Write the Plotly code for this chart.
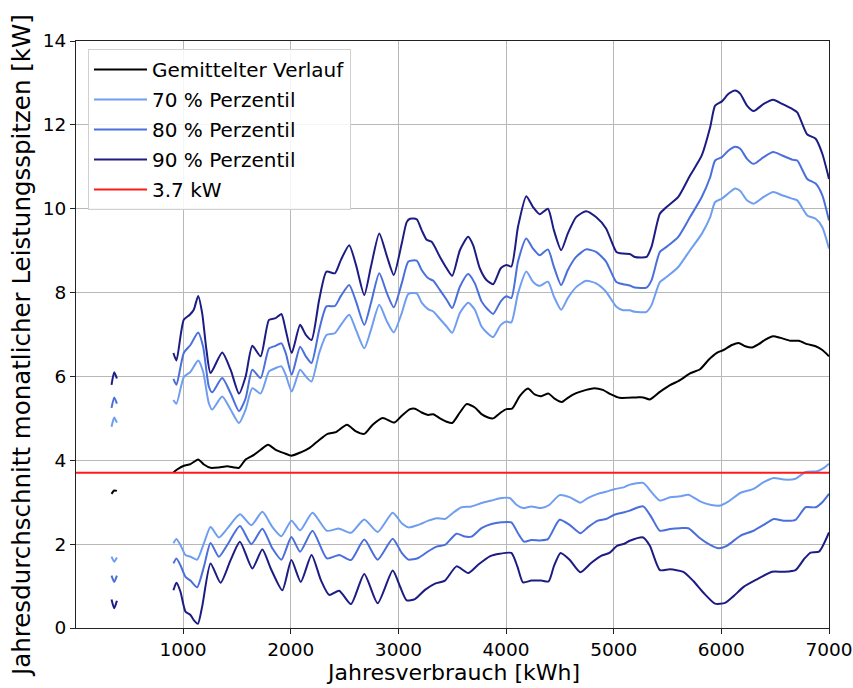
import plotly.graph_objects as go

# ---- data (x = Jahresverbrauch kWh, y = kW) ----
frag_x = [335, 360, 385]
frag_mean = [3.20, 3.28, 3.27]
frag_u70 = [4.80, 5.02, 4.90]
frag_u80 = [5.25, 5.50, 5.35]
frag_u90 = [5.80, 6.10, 5.95]
frag_l70 = [1.70, 1.58, 1.68]
frag_l80 = [1.25, 1.10, 1.25]
frag_l90 = [0.68, 0.47, 0.65]

mean_pts = [(910, 3.71), (944, 3.78), (1006, 3.87), (1068, 3.91), (1140, 4.02), (1193, 3.90), (1255, 3.82),
            (1332, 3.83), (1410, 3.86), (1472, 3.83), (1519, 3.82), (1581, 4.02), (1658, 4.13), (1720, 4.25),
            (1789, 4.37), (1860, 4.25), (1938, 4.17), (2006, 4.11), (2093, 4.19), (2171, 4.29), (2248, 4.45),
            (2342, 4.63), (2419, 4.67), (2522, 4.85), (2606, 4.69), (2683, 4.63), (2761, 4.85), (2854, 5.01),
            (2963, 4.90), (3031, 5.06), (3108, 5.22), (3154, 5.23), (3216, 5.14), (3278, 5.08), (3324, 5.10),
            (3386, 5.00), (3448, 4.92), (3500, 4.89), (3571, 5.14), (3633, 5.34), (3710, 5.26), (3772, 5.10),
            (3833, 5.02), (3880, 5.00), (3951, 5.14), (4003, 5.22), (4056, 5.23), (4127, 5.53), (4204, 5.71),
            (4265, 5.57), (4327, 5.53), (4395, 5.59), (4451, 5.47), (4519, 5.39), (4574, 5.49), (4651, 5.60),
            (4744, 5.68), (4821, 5.72), (4898, 5.68), (4975, 5.57), (5052, 5.49), (5211, 5.50), (5274, 5.50),
            (5336, 5.45), (5429, 5.63), (5523, 5.79), (5616, 5.91), (5709, 6.07), (5802, 6.17), (5880, 6.39),
            (5958, 6.56), (6020, 6.63), (6098, 6.75), (6160, 6.80), (6222, 6.72), (6285, 6.69), (6347, 6.77),
            (6409, 6.88), (6481, 6.96), (6549, 6.92), (6642, 6.85), (6720, 6.85), (6798, 6.77), (6876, 6.72),
            (6938, 6.63), (7000, 6.48)]

u90_pts = [(910, 6.56), (938, 6.38), (1006, 7.35), (1062, 7.47), (1099, 7.59), (1140, 7.92), (1177, 7.51),
           (1217, 6.63), (1255, 6.08), (1363, 6.57), (1441, 6.16), (1519, 5.59), (1581, 6.00), (1643, 6.73),
           (1720, 6.48), (1798, 7.35), (1860, 7.39), (1913, 7.49), (1953, 7.11), (2009, 6.56), (2087, 7.23),
           (2140, 6.99), (2193, 6.87), (2264, 7.83), (2332, 8.50), (2410, 8.46), (2466, 8.78), (2543, 9.13),
           (2606, 8.66), (2683, 7.94), (2745, 8.62), (2822, 9.41), (2894, 8.86), (2957, 8.42), (3031, 9.17),
           (3077, 9.68), (3108, 9.76), (3170, 9.75), (3216, 9.49), (3262, 9.26), (3309, 9.21), (3386, 8.85),
           (3448, 8.58), (3500, 8.40), (3571, 9.01), (3648, 9.33), (3694, 9.13), (3756, 8.58), (3818, 8.30),
           (3880, 8.20), (3951, 8.58), (4003, 8.66), (4049, 8.62), (4111, 9.57), (4188, 10.30), (4250, 10.04),
           (4312, 9.87), (4389, 10.00), (4444, 9.49), (4512, 9.01), (4574, 9.41), (4651, 9.80), (4744, 9.94),
           (4836, 9.80), (4929, 9.53), (5025, 8.97), (5087, 8.93), (5149, 8.92), (5196, 8.85), (5305, 8.85),
           (5351, 9.09), (5429, 9.88), (5491, 10.04), (5600, 10.28), (5709, 10.79), (5818, 11.27), (5896, 11.94),
           (5942, 12.46), (6005, 12.56), (6067, 12.74), (6129, 12.82), (6176, 12.74), (6238, 12.46), (6300, 12.33),
           (6393, 12.50), (6481, 12.60), (6565, 12.50), (6658, 12.38), (6705, 12.30), (6798, 11.77), (6876, 11.67),
           (6938, 11.31), (7000, 10.71)]

u80_pts = [(910, 5.94), (938, 5.80), (1006, 6.56), (1068, 6.75), (1140, 7.05), (1186, 6.71), (1239, 5.76),
           (1270, 5.62), (1363, 5.96), (1441, 5.60), (1519, 5.17), (1581, 5.48), (1643, 6.16), (1720, 5.96),
           (1798, 6.67), (1860, 6.73), (1913, 6.79), (1953, 6.56), (2009, 6.04), (2087, 6.71), (2140, 6.48),
           (2193, 6.32), (2264, 7.11), (2332, 7.67), (2410, 7.68), (2466, 7.92), (2543, 8.18), (2606, 7.79),
           (2683, 7.23), (2745, 7.75), (2822, 8.46), (2894, 7.98), (2957, 7.65), (3031, 8.22), (3093, 8.74),
           (3170, 8.76), (3216, 8.54), (3278, 8.34), (3324, 8.28), (3386, 8.06), (3448, 7.83), (3500, 7.63),
           (3571, 8.14), (3648, 8.44), (3710, 8.22), (3772, 7.79), (3833, 7.59), (3880, 7.49), (3951, 7.79),
           (4003, 7.91), (4049, 7.87), (4111, 8.74), (4188, 9.29), (4250, 9.05), (4312, 8.89), (4389, 9.03),
           (4444, 8.62), (4512, 8.18), (4574, 8.54), (4651, 8.85), (4744, 9.03), (4836, 8.97), (4929, 8.74),
           (5022, 8.26), (5087, 8.20), (5149, 8.17), (5196, 8.12), (5305, 8.12), (5351, 8.29), (5429, 8.97),
           (5491, 9.09), (5600, 9.33), (5709, 9.80), (5818, 10.28), (5896, 10.75), (5942, 11.15), (6005, 11.23),
           (6067, 11.39), (6129, 11.48), (6176, 11.43), (6238, 11.19), (6300, 11.07), (6393, 11.23), (6481, 11.35),
           (6565, 11.27), (6658, 11.17), (6705, 11.15), (6798, 10.71), (6876, 10.60), (6938, 10.32), (7000, 9.72)]

u70_pts = [(910, 5.44), (938, 5.35), (1006, 5.98), (1068, 6.11), (1140, 6.38), (1186, 6.11), (1239, 5.36),
           (1270, 5.21), (1363, 5.52), (1441, 5.21), (1519, 4.89), (1581, 5.21), (1643, 5.72), (1720, 5.59),
           (1798, 6.12), (1860, 6.20), (1913, 6.24), (1953, 6.04), (2009, 5.64), (2087, 6.16), (2140, 6.00),
           (2193, 5.88), (2264, 6.56), (2332, 6.99), (2410, 7.03), (2466, 7.23), (2543, 7.47), (2606, 7.11),
           (2683, 6.67), (2745, 7.11), (2822, 7.71), (2894, 7.31), (2957, 7.05), (3031, 7.51), (3093, 7.97),
           (3170, 7.98), (3216, 7.76), (3278, 7.60), (3324, 7.55), (3386, 7.37), (3448, 7.19), (3500, 7.04),
           (3571, 7.51), (3648, 7.76), (3710, 7.59), (3772, 7.19), (3833, 7.02), (3880, 6.94), (3951, 7.23),
           (4003, 7.31), (4049, 7.29), (4111, 7.98), (4188, 8.50), (4250, 8.26), (4312, 8.16), (4389, 8.26),
           (4444, 7.91), (4512, 7.59), (4574, 7.87), (4651, 8.13), (4744, 8.28), (4836, 8.22), (4929, 8.02),
           (5022, 7.67), (5087, 7.58), (5149, 7.58), (5196, 7.54), (5305, 7.54), (5351, 7.70), (5429, 8.25),
           (5491, 8.37), (5600, 8.61), (5709, 9.01), (5818, 9.40), (5896, 9.80), (5942, 10.16), (6005, 10.24),
           (6067, 10.37), (6129, 10.48), (6176, 10.42), (6238, 10.20), (6300, 10.12), (6393, 10.28), (6481, 10.40),
           (6565, 10.32), (6658, 10.24), (6705, 10.20), (6798, 9.84), (6876, 9.76), (6938, 9.56), (7000, 9.05)]

l70_pts = [(910, 2.02), (938, 2.12), (975, 1.98), (1022, 1.74), (1068, 1.70), (1130, 1.63), (1193, 2.02),
           (1255, 2.41), (1332, 2.16), (1410, 2.37), (1528, 2.71), (1634, 2.45), (1736, 2.77), (1829, 2.41),
           (1913, 2.19), (2006, 2.56), (2087, 2.33), (2202, 2.75), (2335, 2.32), (2450, 2.37), (2559, 2.27),
           (2683, 2.59), (2807, 2.29), (2947, 2.75), (3031, 2.50), (3093, 2.40), (3185, 2.46), (3278, 2.56),
           (3355, 2.62), (3432, 2.60), (3509, 2.75), (3586, 2.88), (3679, 2.90), (3772, 2.98), (3864, 3.04),
           (3957, 3.10), (4034, 3.10), (4096, 2.94), (4157, 2.86), (4235, 2.90), (4327, 2.86), (4404, 2.94),
           (4497, 3.17), (4590, 3.12), (4691, 2.99), (4759, 3.10), (4852, 3.20), (4929, 3.25), (5006, 3.31),
           (5099, 3.36), (5149, 3.42), (5274, 3.46), (5351, 3.24), (5429, 3.04), (5523, 3.12), (5616, 3.14),
           (5694, 3.18), (5802, 3.02), (5896, 2.94), (5989, 2.92), (6067, 3.02), (6176, 3.22), (6300, 3.32),
           (6393, 3.48), (6487, 3.58), (6580, 3.54), (6689, 3.56), (6782, 3.72), (6891, 3.74), (6953, 3.82),
           (7000, 3.92)]

l80_pts = [(910, 1.54), (938, 1.66), (975, 1.50), (1022, 1.22), (1068, 1.13), (1130, 0.97), (1193, 1.46),
           (1255, 2.03), (1332, 1.70), (1410, 1.98), (1528, 2.43), (1634, 2.00), (1736, 2.37), (1829, 1.90),
           (1913, 1.63), (2006, 2.17), (2087, 1.82), (2202, 2.32), (2335, 1.66), (2450, 1.74), (2559, 1.62),
           (2683, 2.11), (2807, 1.63), (2947, 2.13), (3031, 1.79), (3093, 1.63), (3185, 1.67), (3278, 1.83),
           (3355, 1.94), (3432, 1.98), (3540, 2.25), (3617, 2.18), (3679, 2.18), (3772, 2.38), (3864, 2.48),
           (3957, 2.52), (4049, 2.52), (4111, 2.26), (4167, 2.06), (4235, 2.10), (4327, 2.09), (4389, 2.12),
           (4497, 2.58), (4590, 2.46), (4691, 2.26), (4759, 2.40), (4852, 2.56), (4929, 2.60), (5006, 2.70),
           (5099, 2.76), (5149, 2.80), (5274, 2.90), (5351, 2.64), (5429, 2.32), (5523, 2.36), (5616, 2.38),
           (5694, 2.38), (5802, 2.14), (5896, 1.98), (5974, 1.90), (6051, 1.96), (6176, 2.20), (6300, 2.32),
           (6393, 2.46), (6487, 2.60), (6580, 2.56), (6689, 2.58), (6782, 2.88), (6876, 2.88), (6938, 3.00),
           (7000, 3.20)]

l90_pts = [(910, 0.90), (938, 1.08), (975, 0.87), (1022, 0.39), (1068, 0.31), (1099, 0.19), (1137, 0.10),
           (1177, 0.51), (1255, 1.54), (1348, 1.08), (1441, 1.62), (1528, 2.06), (1643, 1.42), (1736, 1.87),
           (1814, 1.42), (1922, 0.90), (2006, 1.62), (2093, 1.10), (2193, 1.74), (2280, 1.14), (2357, 0.79),
           (2450, 0.89), (2559, 0.57), (2683, 1.29), (2807, 0.59), (2947, 1.37), (3015, 0.99), (3077, 0.66),
           (3154, 0.69), (3247, 0.91), (3340, 1.06), (3432, 1.13), (3540, 1.47), (3648, 1.31), (3741, 1.51),
           (3849, 1.71), (3941, 1.77), (4049, 1.79), (4105, 1.47), (4157, 1.09), (4235, 1.13), (4327, 1.13),
           (4395, 1.11), (4444, 1.47), (4506, 1.79), (4590, 1.63), (4691, 1.33), (4790, 1.55), (4883, 1.72),
           (4960, 1.79), (5031, 1.96), (5099, 2.01), (5149, 2.08), (5274, 2.16), (5336, 1.96), (5429, 1.38),
           (5523, 1.40), (5647, 1.34), (5740, 1.12), (5834, 0.84), (5942, 0.58), (6036, 0.60), (6114, 0.76),
           (6207, 0.98), (6331, 1.16), (6471, 1.34), (6580, 1.34), (6689, 1.38), (6767, 1.64), (6829, 1.80),
           (6907, 1.82), (7000, 2.28)]

limit_kw = 3.7
x_ticks = [1000, 2000, 3000, 4000, 5000, 6000, 7000]
y_ticks = [0, 2, 4, 6, 8, 10, 12, 14]

C_MEAN = "black"
C70 = "#6f9ef0"
C80 = "#4a6fdc"
C90 = "#1c1c84"
C_RED = "#ff1a1a"

FONT = "DejaVu Sans"


def series(frag_y, pts):
    xs = frag_x + [None] + [p[0] for p in pts]
    ys = frag_y + [None] + [p[1] for p in pts]
    return xs, ys


fig = go.Figure()


def add(frag_y, pts, color, name, group, show):
    xs, ys = series(frag_y, pts)
    fig.add_trace(go.Scatter(x=xs, y=ys, mode="lines", name=name, legendgroup=group,
                             showlegend=show, connectgaps=False,
                             line=dict(color=color, width=2, shape="spline", smoothing=0.6)))


add(frag_mean, mean_pts, C_MEAN, "Gemittelter Verlauf", "g0", True)
add(frag_u70, u70_pts, C70, "70 % Perzentil", "g1", True)
add(frag_l70, l70_pts, C70, "70 % Perzentil", "g1", False)
add(frag_u80, u80_pts, C80, "80 % Perzentil", "g2", True)
add(frag_l80, l80_pts, C80, "80 % Perzentil", "g2", False)
add(frag_u90, u90_pts, C90, "90 % Perzentil", "g3", True)
add(frag_l90, l90_pts, C90, "90 % Perzentil", "g3", False)
fig.add_trace(go.Scatter(x=[0, x_ticks[-1]], y=[limit_kw, limit_kw], mode="lines", name="3.7 kW",
                         legendgroup="g4", line=dict(color=C_RED, width=2)))

W, H = 853, 688
L, R, T, B = 76, 24, 41, 60
fig.update_layout(
    width=W, height=H,
    margin=dict(l=L, r=R, t=T, b=B, autoexpand=False),
    paper_bgcolor="white", plot_bgcolor="white",
    font=dict(family=FONT, color="black", size=18.5),
    legend=dict(x=12 / 753, y=1 - 8 / 587, xanchor="left", yanchor="top",
                bgcolor="rgba(255,255,255,0.85)", bordercolor="#d0d0d0", borderwidth=1,
                font=dict(size=20, family=FONT), traceorder="grouped", tracegroupgap=1,
                itemwidth=53),
    xaxis=dict(range=[5, 7000], tickvals=x_ticks, showgrid=True, gridcolor="#b8b8b8", gridwidth=1,
               showline=True, linecolor="#222", linewidth=1.2, mirror=True,
               ticks="outside", ticklen=5, tickcolor="#222", tickfont=dict(size=18.5),
               ticklabeloverflow="allow", zeroline=False, automargin=False),
    yaxis=dict(range=[0, 14], tickvals=y_ticks, showgrid=True, gridcolor="#b8b8b8", gridwidth=1,
               showline=True, linecolor="#222", linewidth=1.2, mirror=True,
               ticks="outside", ticklen=5, tickcolor="#222", tickfont=dict(size=18.5),
               ticklabeloverflow="allow", zeroline=False, automargin=False),
)

fig.add_annotation(text="Jahresverbrauch [kWh]", xref="paper", yref="paper", x=0.5, y=0,
                   yshift=-31, xanchor="center", yanchor="top", showarrow=False, borderpad=0,
                   font=dict(size=22, family=FONT))
fig.add_annotation(text="Jahresdurchschnitt monatlicher Leistungsspitzen [kW]", xref="paper", yref="paper",
                   x=-55 / 753, y=(628 - 346) / 587, xanchor="center", yanchor="middle",
                   textangle=-90, showarrow=False, font=dict(size=24.5, family=FONT))

fig.write_html("out.html")
